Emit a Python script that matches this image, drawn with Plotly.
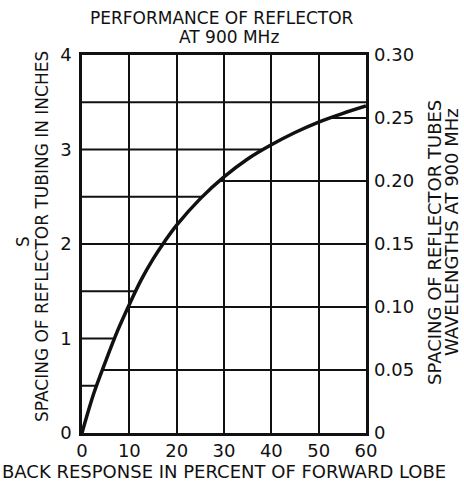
import numpy as np
import plotly.graph_objects as go

# Data
back_response = [0, 2.5, 5, 7.5, 10, 12.5, 15, 17.5, 20, 25, 30, 35, 40, 45, 50, 55, 60]
spacing_in = [0, 0.42, 0.76, 1.08, 1.36, 1.62, 1.84, 2.03, 2.20, 2.48, 2.71, 2.90, 3.05, 3.18, 3.29, 3.38, 3.46]

x_ticks = [0, 10, 20, 30, 40, 50, 60]
left_ticks = [0, 1, 2, 3, 4]
right_ticks = [0, 0.05, 0.10, 0.15, 0.20, 0.25, 0.30]
right_labels = ["0", "0.05", "0.10", "0.15", "0.20", "0.25", "0.30"]
left_grid = [0.5, 1.0, 1.5, 2.0, 2.5, 3.0, 3.5]
right_grid = [0.05, 0.10, 0.15, 0.20, 0.25]

FONT = "DejaVu Sans"
INK = "#111111"
W, H = 464, 481
L, R, T, B = 82, 366, 55, 433

fig = go.Figure()
fig.add_trace(go.Scatter(x=back_response, y=spacing_in, mode="lines",
                         line=dict(color=INK, width=3.5, shape="spline", smoothing=1.0),
                         hoverinfo="skip", showlegend=False))
fig.add_trace(go.Scatter(x=[0, 60], y=[0, 0.30], yaxis="y2", mode="markers",
                         marker=dict(opacity=0), hoverinfo="skip", showlegend=False))

shapes = []
for lv in left_grid:
    xe = float(np.interp(lv, spacing_in, back_response)) if lv <= max(spacing_in) else 60
    shapes.append(dict(type="line", xref="x", yref="y", x0=0, x1=xe, y0=lv, y1=lv,
                       line=dict(color=INK, width=2), layer="below"))
for rv in right_grid:
    yv = rv / 0.30 * 4
    xs = float(np.interp(yv, spacing_in, back_response))
    shapes.append(dict(type="line", xref="x", yref="y", x0=xs, x1=60, y0=yv, y1=yv,
                       line=dict(color=INK, width=2), layer="below"))

tickfont = dict(family=FONT, size=18, color=INK)
fig.update_layout(
    width=W, height=H,
    margin=dict(l=L, r=W - R, t=T, b=H - B, autoexpand=False),
    paper_bgcolor="white", plot_bgcolor="white",
    shapes=shapes,
    xaxis=dict(range=[0, 60], tickvals=x_ticks, ticktext=[str(v) for v in x_ticks],
               showgrid=True, gridcolor=INK, gridwidth=2, zeroline=False,
               showline=True, linecolor=INK, linewidth=2.5, mirror=True,
               ticks="", tickfont=tickfont, ticklabelstandoff=0),
    yaxis=dict(range=[0, 4], tickvals=left_ticks, ticktext=[str(v) for v in left_ticks],
               showgrid=False, zeroline=False,
               showline=True, linecolor=INK, linewidth=2.5, mirror=True,
               ticks="", tickfont=tickfont, ticklabelstandoff=4),
    yaxis2=dict(range=[0, 0.30], overlaying="y", side="right",
                tickvals=right_ticks, ticktext=right_labels,
                showgrid=False, zeroline=False, showline=False,
                ticks="", tickfont=tickfont, ticklabelstandoff=7),
)

anns = [
    ("PERFORMANCE OF REFLECTOR", 222, 18, 0, 17),
    ("AT 900 MHz", 229, 37, 0, 17),
    ("BACK RESPONSE IN PERCENT OF FORWARD LOBE", 224, 471, 0, 18),
    ("S", 23, 242, -90, 17),
    ("SPACING OF REFLECTOR TUBING IN INCHES", 42, 237, -90, 17),
    ("SPACING OF REFLECTOR TUBES", 434, 243, -90, 18),
    ("WAVELENGTHS AT 900 MHz", 451, 232, -90, 18),
]
for text, px, py, ang, size in anns:
    fig.add_annotation(text=text, x=(px - L) / (R - L), y=(B - py) / (B - T),
                       xref="paper", yref="paper", showarrow=False,
                       xanchor="center", yanchor="middle", textangle=ang,
                       font=dict(family=FONT, size=size, color=INK))

fig.write_html("out.html", config={"displayModeBar": False},
               post_script="document.body.style.margin='0';")
